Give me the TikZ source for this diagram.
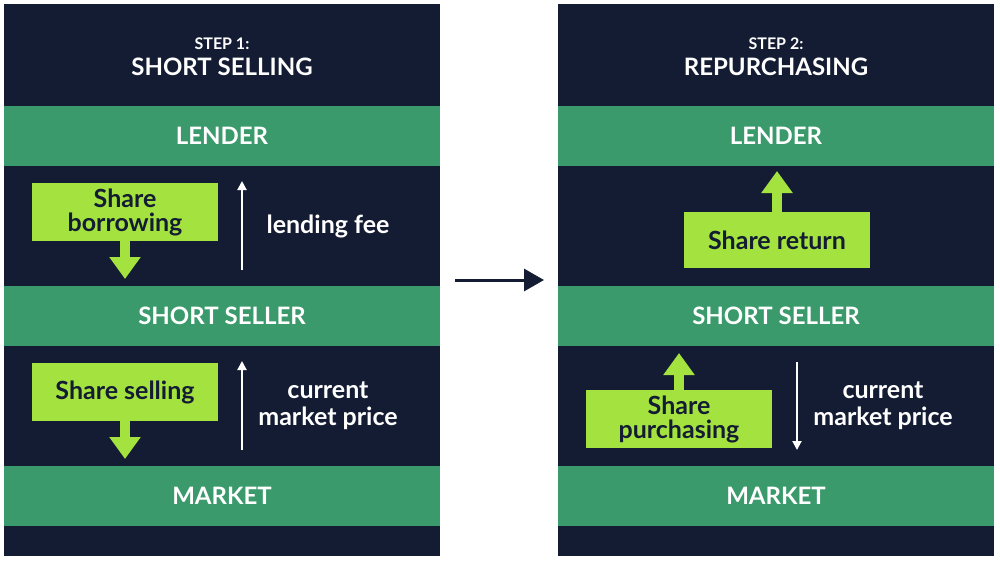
\documentclass[tikz,border=0pt]{standalone}
\usepackage{fontspec}
\setmainfont{Lato}
\usetikzlibrary{positioning,arrows.meta}
\definecolor{navy}{HTML}{141C33}
\definecolor{bargreen}{HTML}{3A9A6B}
\definecolor{boxgreen}{HTML}{A4E33F}
\tikzset{
  panel/.style={fill=navy,draw=none},
  bar/.style={fill=bargreen,minimum width=436pt,minimum height=60pt,inner sep=0pt,
    text=white,font=\bfseries\fontsize{24}{26}\selectfont},
  actbox/.style={fill=boxgreen,minimum width=186pt,minimum height=58pt,inner sep=0pt,
    align=center,text=navy,font=\bfseries\fontsize{25}{24}\selectfont},
  note/.style={text=white,align=center,font=\bfseries\fontsize{25}{27}\selectfont},
  title/.style={text=white,font=\bfseries\fontsize{24}{26}\selectfont},
  steplabel/.style={text=white,font=\bfseries\fontsize{16}{18}\selectfont},
  thin/.style={white,line width=2pt,-{Triangle[length=9pt,width=9pt]}},
  fat/.style={boxgreen,line width=10pt,-{Triangle[length=22pt,width=30pt]}}
}
\begin{document}
\begin{tikzpicture}[x=1pt,y=-1pt]
\useasboundingbox[fill=white] (0,0) rectangle (1000,560);
% panels
\fill[panel] (4,4) rectangle (440,556);
\fill[panel] (558,4) rectangle (994,556);
% left panel
\node[steplabel] (s1) at (222,44) {STEP 1:};
\node[title] (t1) at (222,67) {SHORT SELLING};
\node[bar] (lend1) at (222,136) {LENDER};
\node[bar] (sell1) at (222,316) {SHORT SELLER};
\node[bar] (mkt1) at (222,496) {MARKET};
\node[actbox] (borrow) at (125,212) {Share\\borrowing};
\coordinate (borrowend) at (125,279);
\draw[fat] (borrow.south) -- (borrowend);
\coordinate (fee0) at (242,270);
\coordinate (fee1) at (242,181);
\draw[thin] (fee0) -- (fee1);
\node[note] (fee) at (328,226) {lending fee};
\node[actbox] (selling) at (125,392) {Share selling};
\coordinate (sellingend) at (125,459);
\draw[fat] (selling.south) -- (sellingend);
\coordinate (price0) at (242,450);
\coordinate (price1) at (242,361);
\draw[thin] (price0) -- (price1);
\node[note] (price) at (328,406) {current\\market price};
% middle arrow
\coordinate (m0) at (455,280);
\coordinate (m1) at (544,280);
\draw[navy,line width=3pt,-{Triangle[length=20pt,width=22pt]}] (m0) -- (m1);
% right panel
\node[steplabel] (s2) at (776,44) {STEP 2:};
\node[title] (t2) at (776,67) {REPURCHASING};
\node[bar] (lend2) at (776,136) {LENDER};
\node[bar] (sell2) at (776,316) {SHORT SELLER};
\node[bar] (mkt2) at (776,496) {MARKET};
\node[actbox,minimum height=56pt] (return) at (777,240) {Share return};
\coordinate (returnend) at (777,171);
\draw[fat] (return.north) -- (returnend);
\node[actbox] (purchase) at (679,419) {Share\\purchasing};
\coordinate (purchaseend) at (679,353);
\draw[fat] (purchase.north) -- (purchaseend);
\coordinate (pay0) at (797,362);
\coordinate (pay1) at (797,450);
\draw[thin] (pay0) -- (pay1);
\node[note] (pay) at (883,406) {current\\market price};
\end{tikzpicture}
\end{document}
